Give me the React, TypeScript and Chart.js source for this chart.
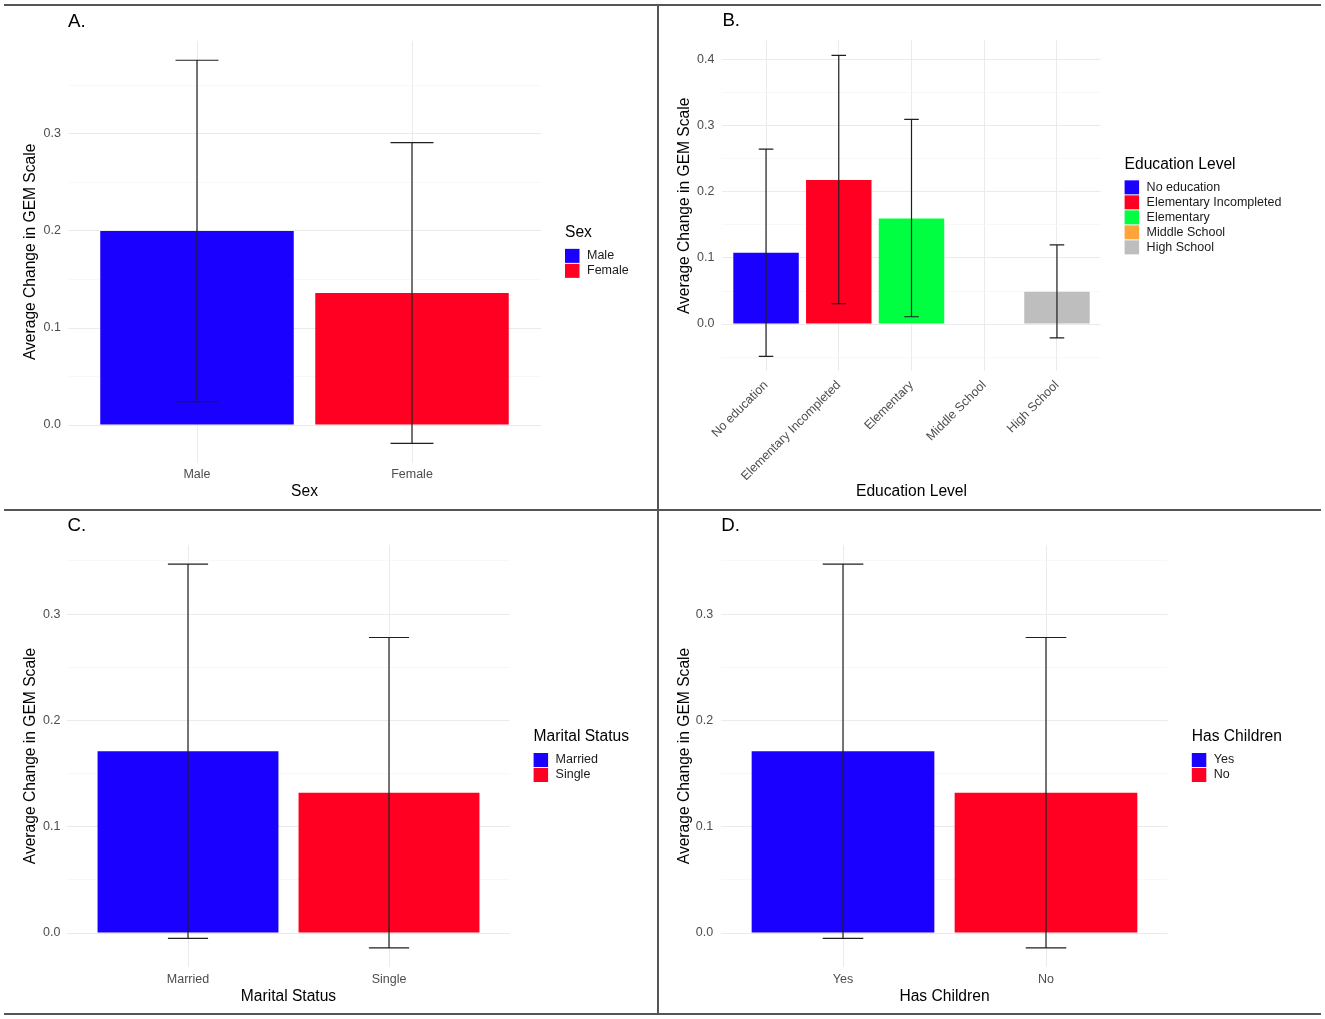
import React, { useEffect, useRef } from 'react';
import { Chart, registerables } from 'chart.js';

Chart.register(...registerables);

const FONT = '"Liberation Sans", Arial, Helvetica, sans-serif';
const Y_TITLE = 'Average Change in GEM Scale';

// Panel A: Sex
const sexCategories = ['Male', 'Female'];
const sexMeans = [0.2, 0.136];
const sexLower = [0.024, -0.019];
const sexUpper = [0.376, 0.291];

// Panel B: Education Level
const eduCategories = ['No education', 'Elementary Incompleted', 'Elementary', 'Middle School', 'High School'];
const eduMeans = [0.108, 0.218, 0.16, null, 0.049];
const eduLower = [-0.049, 0.031, 0.011, null, -0.021];
const eduUpper = [0.265, 0.407, 0.31, null, 0.12];

// Panel C: Marital Status
const maritalCategories = ['Married', 'Single'];
const maritalMeans = [0.171, 0.132];
const maritalLower = [-0.005, -0.014];
const maritalUpper = [0.347, 0.278];

// Panel D: Has Children
const childrenCategories = ['Yes', 'No'];
const childrenMeans = [0.171, 0.132];
const childrenLower = [-0.005, -0.014];
const childrenUpper = [0.347, 0.278];

const BLUE = '#1A00FF';
const RED = '#FF0022';
const GREEN = '#00FF40';
const ORANGE = '#FFA33A';
const GREY = '#BEBEBE';

type Val = number | null;
type PanelSpec = {
  label: string;
  xTitle: string;
  legendTitle: string;
  categories: string[];
  means: Val[];
  lower: Val[];
  upper: Val[];
  colors: string[];
  box: { x: number; y: number; w: number; h: number };
  area: { l: number; t: number; r: number; b: number };
  yTitleX: number;
  xTitleFromBottom: number;
  yTickPad: number;
  xTickPad: number;
  rotate: number;
};

const panels: PanelSpec[] = [
  {
    label: 'A.', xTitle: 'Sex', legendTitle: 'Sex',
    categories: sexCategories, means: sexMeans, lower: sexLower, upper: sexUpper,
    colors: [BLUE, RED],
    box: { x: 0, y: 0, w: 657, h: 509 },
    area: { l: 68, t: 41.1, r: 541, b: 462.6 },
    yTitleX: 30.5, xTitleFromBottom: 17, yTickPad: 7, xTickPad: 4.8, rotate: 0,
  },
  {
    label: 'B.', xTitle: 'Education Level', legendTitle: 'Education Level',
    categories: eduCategories, means: eduMeans, lower: eduLower, upper: eduUpper,
    colors: [BLUE, RED, GREEN, ORANGE, GREY],
    box: { x: 658, y: 0, w: 667, h: 509 },
    area: { l: 64.4, t: 40.3, r: 442.6, b: 371.4 },
    yTitleX: 27, xTitleFromBottom: 17, yTickPad: 8, xTickPad: 6.5, rotate: 45,
  },
  {
    label: 'C.', xTitle: 'Marital Status', legendTitle: 'Marital Status',
    categories: maritalCategories, means: maritalMeans, lower: maritalLower, upper: maritalUpper,
    colors: [BLUE, RED],
    box: { x: 0, y: 510, w: 657, h: 509 },
    area: { l: 67.4, t: 34.95, r: 509.6, b: 457.07 },
    yTitleX: 30.5, xTitleFromBottom: 22.3, yTickPad: 7, xTickPad: 4.5, rotate: 0,
  },
  {
    label: 'D.', xTitle: 'Has Children', legendTitle: 'Has Children',
    categories: childrenCategories, means: childrenMeans, lower: childrenLower, upper: childrenUpper,
    colors: [BLUE, RED],
    box: { x: 658, y: 510, w: 667, h: 509 },
    area: { l: 63.2, t: 34.95, r: 509.8, b: 457.07 },
    yTitleX: 27, xTitleFromBottom: 22.3, yTickPad: 8, xTickPad: 4.5, rotate: 0,
  },
];

const isMajor = (v: number) => Math.abs(v * 10 - Math.round(v * 10)) < 1e-6;

function buildConfig(spec: PanelSpec): any {
  const vals: number[] = [0];
  spec.means.forEach((m) => { if (m != null) vals.push(m); });
  spec.lower.forEach((m) => { if (m != null) vals.push(m); });
  spec.upper.forEach((m) => { if (m != null) vals.push(m); });
  const lo = Math.min(...vals);
  const hi = Math.max(...vals);
  const span = hi - lo;
  const yMin = lo - 0.05 * span;
  const yMax = hi + 0.05 * span;
  const n = spec.categories.length;
  const { box, area } = spec;

  const decor = {
    id: 'decor' + spec.label,
    afterDatasetsDraw(chart: any) {
      const ctx = chart.ctx;
      const xs = chart.scales.x;
      const ys = chart.scales.y;
      const cap = (xs.getPixelForValue(2) - xs.getPixelForValue(1)) * 0.1;
      ctx.save();
      ctx.strokeStyle = '#1f1f1f';
      ctx.lineWidth = 1.2;
      spec.means.forEach((m, i) => {
        const lw = spec.lower[i];
        const up = spec.upper[i];
        if (m == null || lw == null || up == null) return;
        const x = xs.getPixelForValue(i + 1);
        const y1 = ys.getPixelForValue(lw);
        const y2 = ys.getPixelForValue(up);
        ctx.beginPath();
        ctx.moveTo(x, y1); ctx.lineTo(x, y2);
        ctx.moveTo(x - cap, y1); ctx.lineTo(x + cap, y1);
        ctx.moveTo(x - cap, y2); ctx.lineTo(x + cap, y2);
        ctx.stroke();
      });
      ctx.restore();
    },
    afterDraw(chart: any) {
      const ctx = chart.ctx;
      const ca = chart.chartArea;
      ctx.save();
      // panel label
      ctx.fillStyle = '#000';
      ctx.textAlign = 'left';
      ctx.textBaseline = 'middle';
      ctx.font = `18.7px ${FONT}`;
      ctx.fillText(spec.label, ca.left, ca.top - 19);
      // legend
      const mid = (ca.top + ca.bottom) / 2;
      const titleY = mid - (23 + 15 * (n - 1)) / 2;
      const x0 = ca.right + 24;
      ctx.font = `15.6px ${FONT}`;
      ctx.fillStyle = '#000';
      ctx.fillText(spec.legendTitle, x0, titleY);
      ctx.font = `12.5px ${FONT}`;
      spec.categories.forEach((c, i) => {
        const cy = titleY + 23 + 15 * i;
        ctx.fillStyle = spec.colors[i];
        ctx.fillRect(x0, cy - 7, 14.5, 14);
        ctx.fillStyle = '#1a1a1a';
        ctx.fillText(c, x0 + 22, cy);
      });
      ctx.restore();
    },
  };

  return {
    type: 'bar',
    data: {
      datasets: [
        {
          data: spec.categories.map((_, i) => ({ x: i + 1, y: spec.means[i] })),
          backgroundColor: spec.colors,
          borderWidth: 0,
          barPercentage: 0.9,
          categoryPercentage: 1.0,
        },
      ],
    },
    options: {
      animation: false,
      responsive: false,
      maintainAspectRatio: false,
      events: [],
      layout: { padding: { left: 0, top: area.t, right: box.w - area.r, bottom: 0 } },
      plugins: {
        legend: { display: false },
        tooltip: { enabled: false },
        title: { display: false },
      },
      scales: {
        x: {
          type: 'linear',
          min: 0.4,
          max: n + 0.6,
          offset: false,
          afterBuildTicks: (s: any) => {
            s.ticks = spec.categories.map((_, i) => ({ value: i + 1 }));
          },
          afterFit: (s: any) => { s.height = box.h - area.b; },
          ticks: {
            autoSkip: false,
            minRotation: spec.rotate,
            maxRotation: spec.rotate,
            padding: spec.xTickPad,
            color: '#4D4D4D',
            font: { family: FONT, size: 12.5 },
            callback: (v: number) => spec.categories[Math.round(v) - 1] ?? '',
          },
          grid: { offset: false, color: '#EBEBEB', lineWidth: 1, drawTicks: false },
          border: { display: false },
          title: {
            display: true,
            text: spec.xTitle,
            color: '#000',
            font: { family: FONT, size: 15.6, lineHeight: 1 },
            padding: { top: 0, bottom: spec.xTitleFromBottom - 7.8 },
          },
        },
        y: {
          type: 'linear',
          min: yMin,
          max: yMax,
          afterBuildTicks: (s: any) => {
            const arr: any[] = [];
            for (let k = Math.ceil(yMin / 0.05 - 1e-9); k * 0.05 <= yMax + 1e-9; k++) {
              arr.push({ value: Math.round(k * 5) / 100 });
            }
            s.ticks = arr;
          },
          afterFit: (s: any) => { s.width = area.l; },
          ticks: {
            padding: spec.yTickPad,
            color: '#4D4D4D',
            font: { family: FONT, size: 12.5 },
            callback: (v: number) => (isMajor(v) ? (Math.abs(v) < 1e-9 ? 0 : v).toFixed(1) : ''),
          },
          grid: {
            color: (c: any) => (c.tick && isMajor(c.tick.value) ? '#EBEBEB' : '#F5F5F5'),
            lineWidth: (c: any) => (c.tick && isMajor(c.tick.value) ? 1 : 0.7),
            drawTicks: false,
          },
          border: { display: false },
          title: {
            display: true,
            text: Y_TITLE,
            color: '#000',
            font: { family: FONT, size: 15.6, lineHeight: 1 },
            padding: { top: spec.yTitleX - 7.8, bottom: 0 },
          },
        },
      },
    },
    plugins: [decor],
  };
}

function Panel({ spec }: { spec: PanelSpec }) {
  const ref = useRef<HTMLCanvasElement | null>(null);
  useEffect(() => {
    if (!ref.current) return;
    const chart = new Chart(ref.current, buildConfig(spec));
    return () => chart.destroy();
  }, [spec]);
  return (
    <canvas
      ref={ref}
      width={spec.box.w}
      height={spec.box.h}
      style={{
        position: 'absolute',
        left: spec.box.x,
        top: spec.box.y,
        width: spec.box.w,
        height: spec.box.h,
      }}
    />
  );
}

const LINE = '#555555';

export default function App() {
  return (
    <div
      style={{
        position: 'absolute',
        left: 0,
        top: 0,
        width: 1325,
        height: 1019,
        background: '#ffffff',
        overflow: 'hidden',
      }}
    >
      {panels.map((p) => (
        <Panel key={p.label} spec={p} />
      ))}
      <div style={{ position: 'absolute', left: 4, top: 4, width: 1317, height: 2, background: LINE }} />
      <div style={{ position: 'absolute', left: 4, top: 508.5, width: 1317, height: 2, background: LINE }} />
      <div style={{ position: 'absolute', left: 4, top: 1012.5, width: 1317, height: 2, background: LINE }} />
      <div style={{ position: 'absolute', left: 657, top: 5, width: 2, height: 1008.5, background: LINE }} />
    </div>
  );
}
